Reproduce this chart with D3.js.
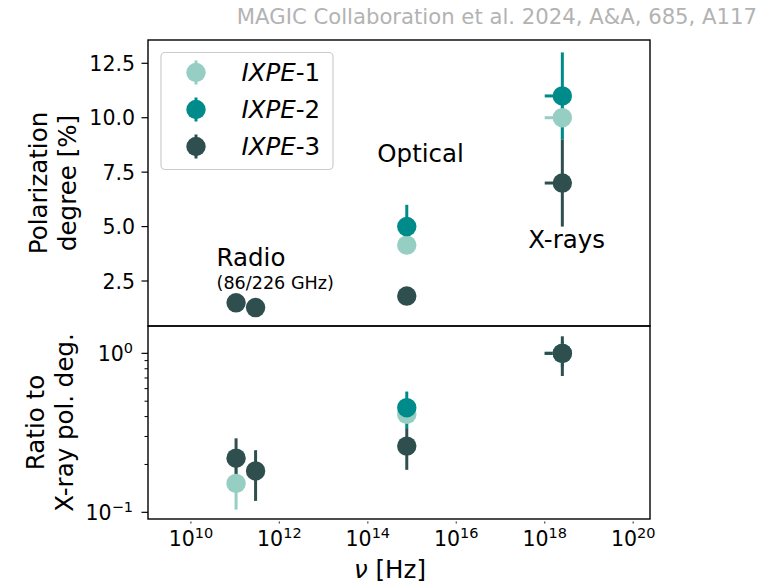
<!DOCTYPE html>
<html>
<head>
<meta charset="utf-8">
<script src="https://cdn.jsdelivr.net/npm/d3@7"></script>
<style>
  body { margin: 0; background: #fff; }
  text { font-family: "DejaVu Sans", sans-serif; }
</style>
</head>
<body>
<svg id="chart" width="759" height="585"></svg>
<script>
// ---- data ----
const seriesNames = ["IXPE-1", "IXPE-2", "IXPE-3"];
const seriesColors = ["#96cec3", "#008b8b", "#2f4f4f"];

// frequencies of the bands: radio 86 GHz, radio 226 GHz, optical, X-rays
const nu = [1.05e11, 2.9e11, 7.6e14, 2.5e18];
const nuXrayLo = 1.0e18, nuXrayHi = 3.5e18;

// polarization degree [%] and 1-sigma errors
const polIXPE1 = [null, null, 4.15, 10.0];
const polErrIXPE1 = [0, 0, 0.3, 1.0];
const polIXPE2 = [null, null, 5.0, 11.0];
const polErrIXPE2 = [0, 0, 1.0, 2.0];
const polIXPE3 = [1.5, 1.28, 1.81, 7.0];
const polErrIXPE3 = [0.1, 0.1, 0.2, 2.0];

// ratio to the X-ray polarization degree
const ratioIXPE1 = [0.152, null, 0.413, 1.0];
const ratioErrIXPE1 = [0.048, 0, 0.05, 0.1];
const ratioIXPE2 = [null, null, 0.455, 1.0];
const ratioErrIXPE2 = [0, 0, 0.12, 0.18];
const ratioIXPE3 = [0.219, 0.182, 0.261, 1.0];
const ratioErrIXPE3 = [0.073, 0.064, 0.076, 0.28];

const polTicks = [2.5, 5.0, 7.5, 10.0, 12.5];
const ratioTicks = [0.1, 1];
const ratioMinorTicks = [0.2, 0.3, 0.4, 0.5, 0.6, 0.7, 0.8, 0.9];
const nuTicks = [1e10, 1e12, 1e14, 1e16, 1e18, 1e20];

const bandNotes = [
  { text: "Radio", nu: 3.8e10, val: 3.19, size: 24.5 },
  { text: "(86/226 GHz)", nu: 3.8e10, val: 2.12, size: 17.6 },
  { text: "Optical", nu: 1.64e14, val: 7.95, size: 24.5 },
  { text: "X-rays", nu: 4.25e17, val: 4.0, size: 24.5 }
];

// ---- layout ----
const svg = d3.select("#chart");
const L = 148, R = 650, T = 40, MID = 326, B = 519;

const x = d3.scaleLog().domain([Math.pow(10, 9.03), Math.pow(10, 20.38)]).range([L, R]);
const yTop = d3.scaleLinear().domain([0.433, 13.57]).range([MID, T]);
const yBot = d3.scaleLog().domain([Math.pow(10, -1.042), Math.pow(10, 0.172)]).range([B, MID]);

const polSeries = [[polIXPE1, polErrIXPE1], [polIXPE2, polErrIXPE2], [polIXPE3, polErrIXPE3]];
const ratioSeries = [[ratioIXPE1, ratioErrIXPE1], [ratioIXPE2, ratioErrIXPE2], [ratioIXPE3, ratioErrIXPE3]];

const R_MARK = 9.7, BAR_W = 3;

function drawPanel(g, y, series) {
  // error bars first, markers on top
  series.forEach(([vals, errs], si) => {
    vals.forEach((v, i) => {
      if (v == null) return;
      const cx = x(nu[i]);
      g.append("line")
        .attr("x1", cx).attr("x2", cx)
        .attr("y1", y(v - errs[i])).attr("y2", y(v + errs[i]))
        .attr("stroke", seriesColors[si]).attr("stroke-width", BAR_W);
      if (i === 3) {
        g.append("line")
          .attr("x1", x(nuXrayLo)).attr("x2", x(nuXrayHi))
          .attr("y1", y(v)).attr("y2", y(v))
          .attr("stroke", seriesColors[si]).attr("stroke-width", BAR_W);
      }
    });
  });
  series.forEach(([vals], si) => {
    vals.forEach((v, i) => {
      if (v == null) return;
      g.append("circle")
        .attr("cx", x(nu[i])).attr("cy", y(v)).attr("r", R_MARK)
        .attr("fill", seriesColors[si]);
    });
  });
}

function powLabel(sel, exp, base, sup, shift) {
  sel.append("tspan").attr("font-size", base).text("10");
  sel.append("tspan").attr("font-size", sup).attr("dy", -shift)
    .text(exp < 0 ? "\u2212" + Math.abs(exp) : String(exp));
}

// data panels
const gTop = svg.append("g");
drawPanel(gTop, yTop, polSeries);
const gBot = svg.append("g");
drawPanel(gBot, yBot, ratioSeries);

// band annotations
bandNotes.forEach(n => {
  svg.append("text").attr("x", x(n.nu)).attr("y", yTop(n.val))
    .attr("font-size", n.size).attr("fill", "#000").text(n.text);
});

// frames
svg.append("rect").attr("x", L).attr("y", T).attr("width", R - L).attr("height", MID - T)
  .attr("fill", "none").attr("stroke", "#000").attr("stroke-width", 1.4);
svg.append("rect").attr("x", L).attr("y", MID).attr("width", R - L).attr("height", B - MID)
  .attr("fill", "none").attr("stroke", "#000").attr("stroke-width", 1.4);

// top y axis
polTicks.forEach(t => {
  svg.append("line").attr("x1", L - 6.5).attr("x2", L).attr("y1", yTop(t)).attr("y2", yTop(t))
    .attr("stroke", "#000").attr("stroke-width", 1.2);
  svg.append("text").attr("x", L - 13).attr("y", yTop(t) + 7.5)
    .attr("text-anchor", "end").attr("font-size", 20.5).text(t.toFixed(1));
});

// bottom y axis (log)
ratioTicks.forEach(t => {
  svg.append("line").attr("x1", L - 6.5).attr("x2", L).attr("y1", yBot(t)).attr("y2", yBot(t))
    .attr("stroke", "#000").attr("stroke-width", 1.2);
  const tx = svg.append("text").attr("x", L - 15).attr("y", yBot(t) + 7.5)
    .attr("text-anchor", "end");
  powLabel(tx, Math.round(Math.log10(t)), 20.5, 14.5, 8);
});
ratioMinorTicks.forEach(t => {
  svg.append("line").attr("x1", L - 3.5).attr("x2", L).attr("y1", yBot(t)).attr("y2", yBot(t))
    .attr("stroke", "#000").attr("stroke-width", 1);
});

// x axis (log)
nuTicks.forEach(t => {
  const px = x(t);
  svg.append("line").attr("x1", px).attr("x2", px).attr("y1", B + 2.5).attr("y2", B + 4.5)
    .attr("stroke", "#444").attr("stroke-width", 1.2);
  const tx = svg.append("text").attr("x", px).attr("y", 546).attr("text-anchor", "middle");
  powLabel(tx, Math.round(Math.log10(t)), 20.5, 14.5, 8);
});

// axis titles
const topLab = svg.append("text").attr("transform", `translate(0,${(T + MID) / 2}) rotate(-90)`)
  .attr("text-anchor", "middle").attr("font-size", 24.5);
topLab.append("tspan").attr("x", 0).attr("y", 46.5).text("Polarization");
topLab.append("tspan").attr("x", 0).attr("y", 75.5).text("degree [%]");

const botLab = svg.append("text").attr("transform", `translate(0,${(MID + B) / 2}) rotate(-90)`)
  .attr("text-anchor", "middle").attr("font-size", 24.5);
botLab.append("tspan").attr("x", 0).attr("y", 43.5).text("Ratio to");
botLab.append("tspan").attr("x", 0).attr("y", 72.5).text("X-ray pol. deg.");

const xLab = svg.append("text").attr("x", 390).attr("y", 578).attr("text-anchor", "middle")
  .attr("font-size", 24.5);
xLab.append("tspan").attr("font-style", "italic").text("\u03bd");
xLab.append("tspan").text(" [Hz]");

// legend
const leg = svg.append("g");
leg.append("rect").attr("x", 161).attr("y", 52.5).attr("width", 172).attr("height", 117)
  .attr("rx", 4).attr("fill", "#fff").attr("stroke", "#cccccc").attr("stroke-width", 1.2);
seriesNames.forEach((name, i) => {
  const cy = 72.5 + i * 37;
  leg.append("line").attr("x1", 196).attr("x2", 196).attr("y1", cy - 12).attr("y2", cy + 12)
    .attr("stroke", seriesColors[i]).attr("stroke-width", BAR_W);
  leg.append("circle").attr("cx", 196).attr("cy", cy).attr("r", R_MARK).attr("fill", seriesColors[i]);
  const t = leg.append("text").attr("x", 241.5).attr("y", cy + 8.5).attr("font-size", 24.5);
  const [a, b] = name.split("-");
  t.append("tspan").attr("font-style", "italic").text(a);
  t.append("tspan").text("-" + b);
});

// source credit
svg.append("text").attr("x", 757).attr("y", 24).attr("text-anchor", "end")
  .attr("font-size", 21.2).attr("fill", "#b3b3b3")
  .text("MAGIC Collaboration et al. 2024, A&A, 685, A117");
</script>
</body>
</html>
